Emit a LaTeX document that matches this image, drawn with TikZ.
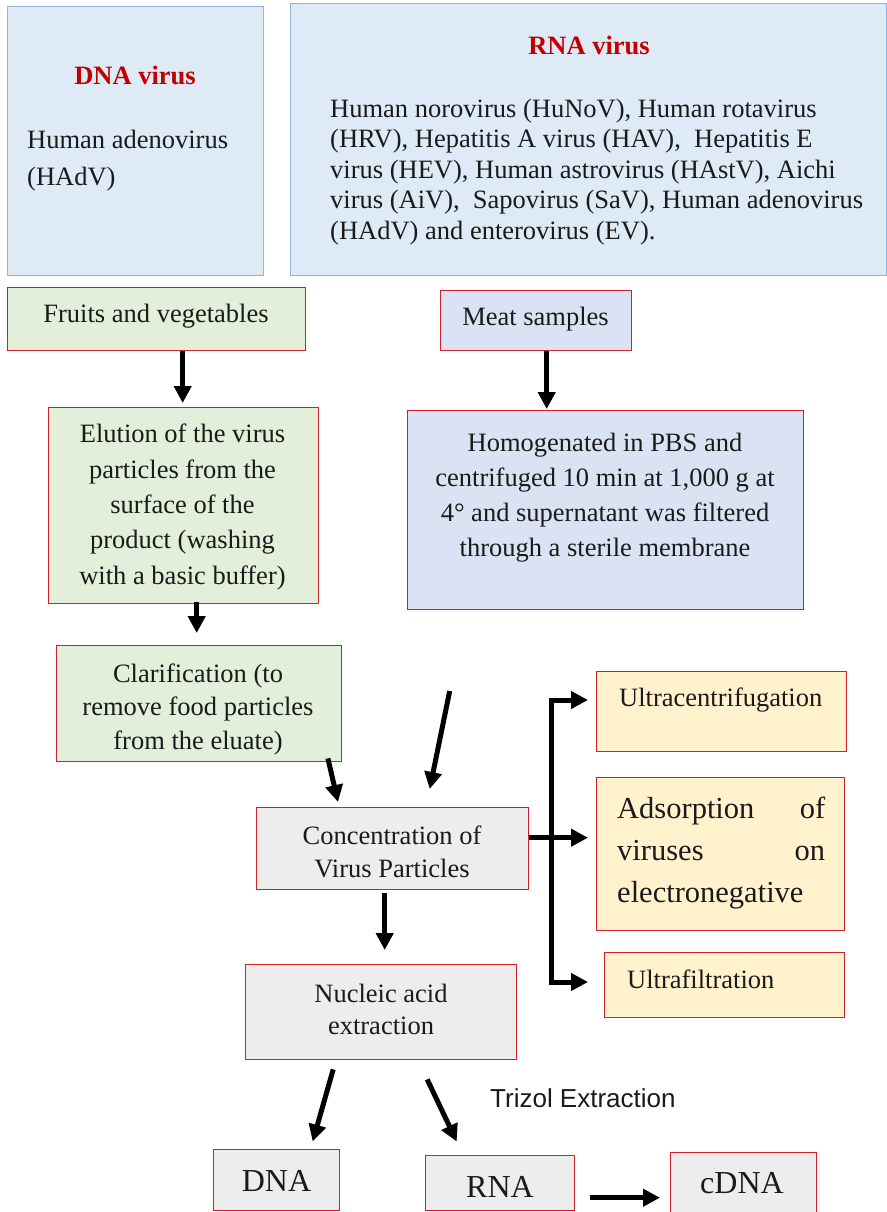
\documentclass[tikz,border=0pt]{standalone}
\usepackage{fontspec}
\setmainfont{Liberation Serif}
\newfontfamily\arialfont{Liberation Sans}
\usetikzlibrary{arrows.meta}
\definecolor{vborder}{HTML}{8EB4E3}
\definecolor{vfill}{HTML}{DEEAF6}
\definecolor{rborder}{HTML}{D0202A}
\definecolor{gfill}{HTML}{E2EFDA}
\definecolor{lfill}{HTML}{DAE3F3}
\definecolor{grfill}{HTML}{EDEDED}
\definecolor{yfill}{HTML}{FFF2CC}
\definecolor{titlered}{HTML}{C00000}
\definecolor{ink}{HTML}{1A1A1A}
\begin{document}
\begin{tikzpicture}[x=1pt,y=-1pt,
  box/.style={draw, rectangle, inner sep=0pt, anchor=north west, line width=1.4pt},
  vbox/.style={box, draw=vborder, fill=vfill},
  gbox/.style={box, draw=rborder, fill=gfill},
  lbox/.style={box, draw=rborder, fill=lfill},
  grbox/.style={box, draw=rborder, fill=grfill},
  ybox/.style={box, draw=rborder, fill=yfill},
  txt/.style={inner sep=0pt, text=ink, font=\fontsize{26.5}{35}\selectfont},
  ttl/.style={inner sep=0pt, text=titlered, font=\fontsize{26.5}{30}\selectfont\bfseries},
  arr/.style={line width=5pt, -{Triangle[length=17pt,width=17pt]}},
]
\useasboundingbox (0,0) rectangle (886,1212);

% ---------- boxes ----------
\node[vbox, minimum width=256pt, minimum height=269pt] (dnav) at (7,6) {};
\node[vbox, minimum width=596pt, minimum height=272pt] (rnav) at (290,3) {};
\node[gbox, minimum width=298pt, minimum height=63pt] (fruit) at (7,287) {};
\node[lbox, minimum width=191pt, minimum height=60pt] (meat) at (440,290) {};
\node[gbox, minimum width=270pt, minimum height=196pt] (elut) at (47.5,407) {};
\node[lbox, minimum width=396pt, minimum height=199pt] (homog) at (407,410) {};
\node[gbox, minimum width=285pt, minimum height=116pt] (clar) at (55.5,645) {};
\node[grbox, minimum width=272pt, minimum height=82pt] (conc) at (256,807) {};
\node[grbox, minimum width=271pt, minimum height=95pt] (nucl) at (245,963.5) {};
\node[ybox, minimum width=250pt, minimum height=80pt] (ucent) at (596,671) {};
\node[ybox, minimum width=248pt, minimum height=153pt] (adsorp) at (596,777) {};
\node[ybox, minimum width=240pt, minimum height=65pt] (ufilt) at (604,952) {};
\node[grbox, minimum width=126pt, minimum height=61pt] (dnab) at (213,1149) {};
\node[grbox, minimum width=149pt, minimum height=55pt] (rnab) at (425,1155) {};
\node[grbox, minimum width=146pt, minimum height=64pt] (cdnab) at (670,1151.5) {};

% ---------- texts (multi-line nodes anchored at last baseline) ----------
\node[ttl, anchor=base] (dnavTitle) at (135,85) {DNA virus};
\node[txt, anchor=base west, align=left, font=\fontsize{26.5}{37}\selectfont] (dnavBody) at (27,185) {Human adenovirus\\(HAdV)};
\node[ttl, anchor=base] (rnavTitle) at (589,55) {RNA virus};
\node[txt, anchor=base west, align=left, font=\fontsize{26.5}{30.5}\selectfont] (rnavBody) at (330,239)
  {Human norovirus (HuNoV), Human rotavirus\\(HRV), Hepatitis A virus (HAV), ~Hepatitis E\\virus (HEV), Human astrovirus (HAstV), Aichi\\virus (AiV), ~Sapovirus (SaV), Human adenovirus\\(HAdV) and enterovirus (EV).};
\node[txt, anchor=base] (fruitT) at (156,322) {Fruits and vegetables};
\node[txt, anchor=base] (meatT) at (535.5,325) {Meat samples};
\node[txt, anchor=base, align=center, font=\fontsize{26.5}{35.3}\selectfont] (elutT) at (182.5,584)
  {Elution of the virus\\particles from the\\surface of the\\product (washing\\with a basic buffer)};
\node[txt, anchor=base, align=center, font=\fontsize{26.5}{35}\selectfont] (homogT) at (605,556)
  {Homogenated in PBS and\\centrifuged 10 min at 1,000 g at\\4° and supernatant was filtered\\through a sterile membrane};
\node[txt, anchor=base, align=center, font=\fontsize{26.5}{33.5}\selectfont] (clarT) at (198,749)
  {Clarification (to\\remove food particles\\from the eluate)};
\node[txt, anchor=base, align=center, font=\fontsize{26.5}{33}\selectfont] (concT) at (392,877)
  {Concentration of\\Virus Particles};
\node[txt, anchor=base, align=center, font=\fontsize{26.5}{32}\selectfont] (nuclT) at (381,1034)
  {Nucleic acid\\extraction};
\node[txt, anchor=base west] (ucentT) at (619,706) {Ultracentrifugation};
\node[txt, anchor=base west, text width=208pt, align=left, font=\fontsize{30.5}{42}\selectfont] (adsorpT) at (617,818)
  {Adsorption\hfill of\\viruses\hfill on\\electronegative};
\node[txt, anchor=base west] (ufiltT) at (627,988) {Ultrafiltration};
\node[txt, anchor=base west, font=\arialfont\fontsize{26}{30}\selectfont] (trizol) at (490,1107) {Trizol Extraction};
\node[txt, anchor=base, font=\fontsize{32}{36}\selectfont] (dnabT) at (276.5,1191) {DNA};
\node[txt, anchor=base, font=\fontsize{32}{36}\selectfont] (rnabT) at (500,1197) {RNA};
\node[txt, anchor=base, font=\fontsize{32}{36}\selectfont] (cdnabT) at (742,1193) {cDNA};

% ---------- connectors ----------
\coordinate (f1) at ([xshift=26pt]fruit.south);
\draw[arr, shorten >=4pt] (f1) -- (f1 |- elut.north);
\coordinate (m1) at ([xshift=10.5pt]meat.south);
\draw[arr, shorten >=1pt] (m1) -- (m1 |- homog.north);
\coordinate (e1) at ([xshift=13.5pt,yshift=2pt]elut.south);
\draw[arr, shorten >=12pt] (e1) -- (e1 |- clar.north);
\draw[arr] ([xshift=-14pt,yshift=4pt]clar.south east) -- ([xshift=82pt,yshift=5pt]conc.north west);
\coordinate (freeS) at (449.7,691);
\draw[arr] (freeS) -- ([xshift=37pt,yshift=18pt]conc.north);
\coordinate (c1) at ([xshift=-8pt,yshift=-3pt]conc.south);
\draw[arr, shorten >=13.5pt] (c1) -- (c1 |- nucl.north);
% bracket
\coordinate (bkT) at (551,700);
\coordinate (bkB) at (551,982);
\draw[arr, shorten >=8pt] (bkB) -- (bkT) -- (bkT -| ucent.west);
\draw[arr, shorten >=16pt] (bkT) -- (bkB) -- (bkB -| ufilt.west);
\coordinate (c2) at ([yshift=11pt]conc.east);
\draw[arr, shorten >=8pt] (c2) -- (c2 -| adsorp.west);
% extraction
\draw[arr] ([xshift=-48pt,yshift=-9.5pt]nucl.south) -- ([xshift=36pt,yshift=7.5pt]dnab.north);
\draw[arr] ([xshift=46pt,yshift=-19.5pt]nucl.south) -- ([xshift=-43.5pt,yshift=13.5pt]rnab.north);
\coordinate (r1) at ([xshift=15pt,yshift=-14.5pt]rnab.east);
\draw[arr, shorten >=10pt] (r1) -- (r1 -| cdnab.west);
\end{tikzpicture}
\end{document}
